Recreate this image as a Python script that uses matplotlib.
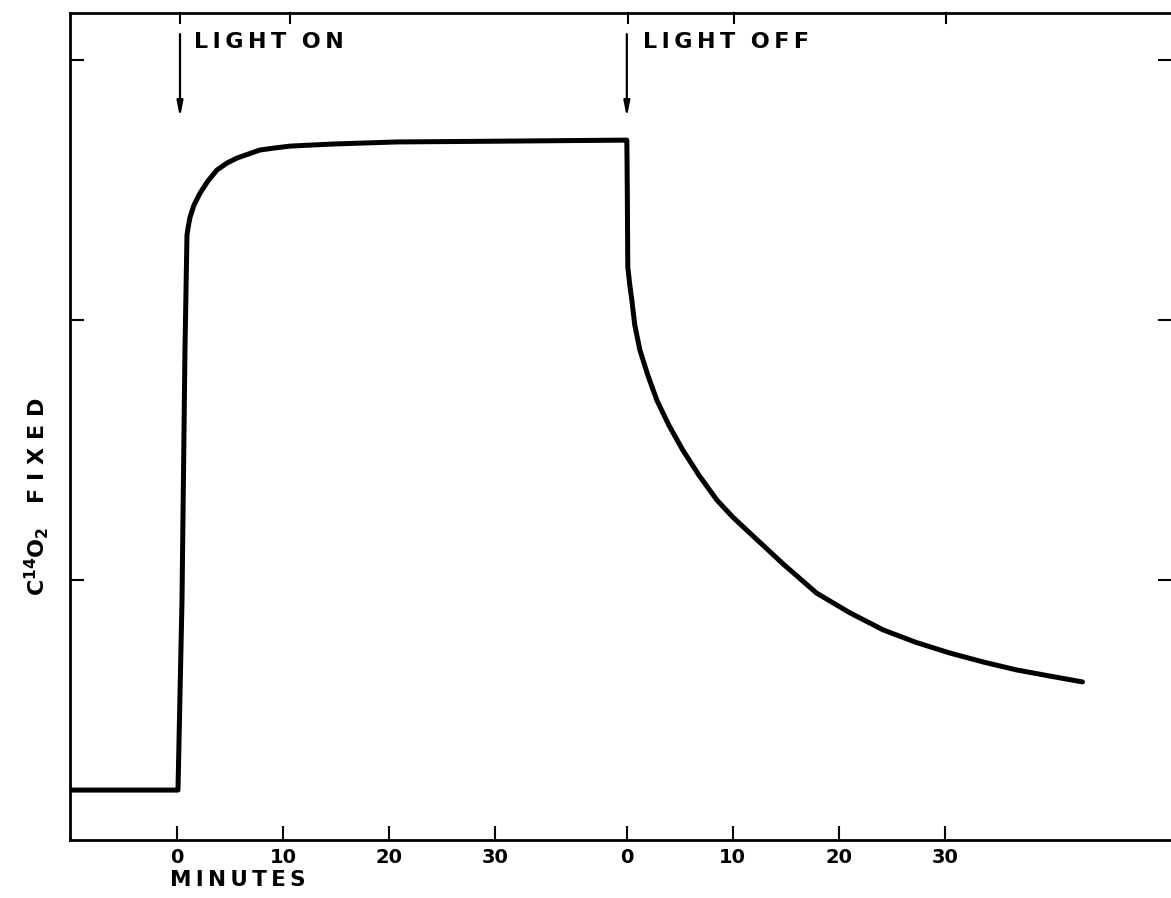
import numpy as np
import matplotlib
matplotlib.use("Agg")
import matplotlib.pyplot as plt

plt.rcParams['font.family'] = ['DejaVu Sans']
plt.rcParams['mathtext.default'] = 'bf'

# ---- data (minutes, arbitrary C14O2 units) ----
light_off_at = 42.45          # continuous-axis position of "light off"
phase1_t = [-10.1, 0.09, 0.47, 0.75, 0.94, 1.04, 1.23, 1.60, 2.17, 2.92, 3.77,
            4.72, 5.66, 6.70, 7.83, 9.25, 10.66, 14.7, 20.75, 30.5, 42.2]
phase1_y = [0.192, 0.192, 0.923, 1.885, 2.327, 2.354, 2.396, 2.442, 2.488, 2.535,
            2.577, 2.604, 2.623, 2.638, 2.654, 2.662, 2.669, 2.677, 2.685, 2.688,
            2.692]
phase2_t = [0.0, 0.02, 0.05, 0.09, 0.28, 0.47, 0.75, 1.23, 1.98, 2.83, 3.96, 5.28,
            6.79, 8.49, 10.0, 11.6, 14.8, 17.9, 21.0, 24.2, 27.3, 30.5, 33.6,
            36.8, 40.0, 43.0]
phase2_y = [2.692, 2.615, 2.462, 2.204, 2.135, 2.077, 1.981, 1.885, 1.788, 1.692,
            1.596, 1.5, 1.404, 1.308, 1.242, 1.181, 1.06, 0.95, 0.875, 0.808,
            0.76, 0.719, 0.685, 0.654, 0.63, 0.608]

tick_pos_rel = [0, 10, 20, 30]
tick_labels = ["0", "10", "20", "30", "0", "10", "20", "30"]
y_ticks = [1, 2, 3]

W, H = 1171, 898
fig = plt.figure(figsize=(W / 100, H / 100), dpi=100)
ax = fig.add_axes([70 / W, (H - 840) / H, (1172 - 70) / W, (840 - 13) / H])

x_all = list(phase1_t) + [light_off_at + t for t in phase2_t]
y_all = list(phase1_y) + list(phase2_y)
ax.plot(x_all, y_all, color='black', lw=3.6, solid_joinstyle='round',
        solid_capstyle='round')

ax.set_xlim(-10.1, 93.9)
ax.set_ylim(0, 3.181)

xt = tick_pos_rel + [light_off_at + p for p in tick_pos_rel]
ax.set_xticks(xt)
ax.set_xticklabels(tick_labels, fontsize=14, fontweight='bold')
ax.set_yticks(y_ticks)
ax.set_yticklabels([])
ax.tick_params(axis='x', direction='in', length=10, width=1.5, pad=6,
               bottom=True, top=False)
ax.tick_params(axis='y', direction='in', length=10, width=1.5, left=True,
               right=True)

# top ticks (as seen on the reference frame)
for xv in [0.28, 10.66, light_off_at + 0.1, light_off_at + 10.1, light_off_at + 30.1]:
    ax.plot([xv, xv], [3.181, 3.181 - 0.04], color='black', lw=1.5, clip_on=False)

for s in ['left', 'bottom', 'top']:
    ax.spines[s].set_linewidth(2.0)
ax.spines['right'].set_visible(False)

# annotations
ts = '\u2009'
arrow = dict(arrowstyle='-|>,head_length=0.9,head_width=0.18', lw=1.6,
             color='black', shrinkA=0, shrinkB=0)
ax.annotate('', xy=(0.28, 2.78), xytext=(0.28, 3.10), arrowprops=arrow)
ax.annotate('', xy=(light_off_at, 2.78), xytext=(light_off_at, 3.10),
            arrowprops=arrow)
ax.text(1.6, 3.07, ts.join('LIGHT') + '  ' + ts.join('ON'), fontsize=16,
        fontweight='bold', va='center', ha='left')
ax.text(light_off_at + 1.5, 3.07, ts.join('LIGHT') + '  ' + ts.join('OFF'),
        fontsize=16, fontweight='bold', va='center', ha='left')

fig.text(238 / W, (H - 880) / H, ts.join('MINUTES'), fontsize=15.5,
         fontweight='bold', ha='center', va='center')
fig.text(37 / W, (H - 497) / H, r'C$^{14}$O$_2$   F I X E D', fontsize=16,
         fontweight='bold', rotation=90, ha='center', va='center')

fig.savefig('out.png', dpi=100)
